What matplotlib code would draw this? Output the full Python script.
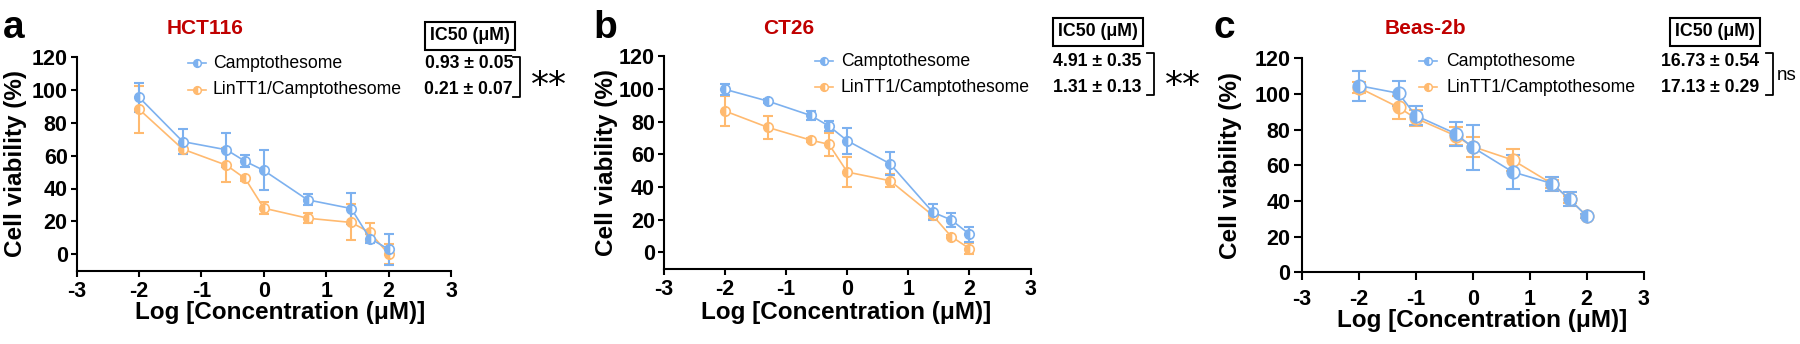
import matplotlib
matplotlib.use('Agg')
import matplotlib.pyplot as plt
from matplotlib.lines import Line2D

plt.rcParams['axes.unicode_minus'] = False

# dose points (log10 of µM)
x_ab = [-2, -1.3, -0.6, -0.3, 0, 0.7, 1.4, 1.7, 2]
x_c = [-2, -1.3, -1.0, -0.3, 0, 0.7, 1.4, 1.7, 2]

# HCT116
a_free = [95.6, 68.6, 63.6, 56.6, 51.0, 33.1, 27.8, 9.5, 3.0]
a_free_err = [9.0, 7.7, 10.5, 3.7, 12.2, 3.4, 9.4, 2.5, 9.4]
a_lin = [88.3, 64.0, 54.2, 46.1, 28.0, 21.9, 19.3, 13.2, 0.0]
a_lin_err = [14.4, 3.0, 10.5, 1.5, 3.5, 3.0, 11.0, 5.7, 6.0]

# CT26
b_free = [99.8, 92.6, 83.8, 77.3, 68.3, 54.2, 24.5, 19.8, 11.0]
b_free_err = [3.5, 1.0, 3.0, 3.0, 8.0, 7.0, 5.0, 4.5, 4.5]
b_lin = [86.5, 76.5, 68.7, 66.1, 49.1, 43.8, 22.5, 9.6, 2.2]
b_lin_err = [9.0, 7.0, 1.0, 7.0, 9.0, 4.0, 2.0, 1.0, 3.5]

# Beas-2b
c_free = [104.7, 100.4, 87.9, 77.8, 70.1, 56.3, 49.7, 40.9, 31.6]
c_free_err = [8.4, 7.0, 5.5, 6.7, 12.7, 9.5, 4.0, 4.0, 1.0]
c_lin = [103.6, 92.5, 86.4, 76.6, 70.5, 63.0, 49.5, 40.9, 31.6]
c_lin_err = [3.0, 6.5, 4.5, 5.0, 5.6, 6.2, 2.5, 2.0, 1.0]

titles = ['HCT116', 'CT26', 'Beas-2b']
letters = ['a', 'b', 'c']
ic50_free = ['0.93 ± 0.05', '4.91 ± 0.35', '16.73 ± 0.54']
ic50_lin = ['0.21 ± 0.07', '1.31 ± 0.13', '17.13 ± 0.29']
signif = ['**', '**', 'ns']
series_names = ['Camptothesome', 'LinTT1/Camptothesome']

blue = '#7db1ef'
orange = '#ffba70'
red = '#c00000'
font = ['Liberation Sans', 'DejaVu Sans']

W, H = 1800, 344
fig = plt.figure(figsize=(W / 100, H / 100), dpi=100)


def fx(px):
    return px / W


def fy(py):
    return 1 - py / H


# axes boxes in pixels: left(x=-3), right(x=3), top(y=120), bottom spine
boxes = [(76.7, 451.0, 57.3, 270.5), (664.0, 1030.6, 56.4, 268.5), (1301.6, 1643.7, 58.3, 272.3)]
ylims = [(-10, 120), (-10, 120), (0, 120)]
xs = [x_ab, x_ab, x_c]
data = [(a_free, a_free_err, a_lin, a_lin_err),
        (b_free, b_free_err, b_lin, b_lin_err),
        (c_free, c_free_err, c_lin, c_lin_err)]
msizes = [6.8, 6.8, 9.0]
caps = [3.6, 3.6, 4.8]
tick_len = [4.5, 4.5, 6]
tick_pad = [3, 3, 6]

# annotation positions (px)
ylab_x = [16, 606, 1231]
xlab_cx = [280, 846, 1482]
xlab_cy = [313, 312, 321]
title_x = [205, 789, 1425]
letter_x = [14, 605, 1224]
marker_x = [197, 824, 1428]
text_x = [213, 841, 1446]
row_y = [(63, 90), (61, 87), (61, 87)]
box_c = [(470, 36), (1098, 32), (1715, 32)]
val_right = [513, 1141, 1759]
brk_x = [520, 1154, 1773]
brk_y = [(57, 97), (53, 95), (53, 95)]

for i in range(3):
    l, r, t, b = boxes[i]
    ax = fig.add_axes([fx(l), fy(b), fx(r - l), (b - t) / H])
    x = xs[i]
    free, free_err, lin, lin_err = data[i]
    for y, e, col in [(lin, lin_err, orange), (free, free_err, blue)]:
        ax.errorbar(x, y, yerr=e, fmt='none', ecolor=col, elinewidth=1.5, capsize=caps[i],
                    capthick=1.5, zorder=2)
        ax.plot(x, y, color=col, lw=1.2, marker='o', ms=msizes[i], fillstyle='left',
                markerfacecolor=col, markerfacecoloralt='white', markeredgecolor=col,
                markeredgewidth=1.2, zorder=3)
    ax.set_xlim(-3, 3)
    ax.set_ylim(*ylims[i])
    ax.set_xticks([-3, -2, -1, 0, 1, 2, 3])
    ax.set_yticks([0, 20, 40, 60, 80, 100, 120])
    for s in ['top', 'right']:
        ax.spines[s].set_visible(False)
    for s in ['left', 'bottom']:
        ax.spines[s].set_linewidth(1.5)
    ax.tick_params(width=1.5, length=tick_len[i], direction='out', pad=2)
    ax.tick_params(axis='x', pad=tick_pad[i])
    for lab in ax.get_xticklabels() + ax.get_yticklabels():
        lab.set_fontfamily(font)
        lab.set_fontweight('bold')
        lab.set_fontsize(15.5)
    ax.set_xlabel('Log [Concentration (μM)]', family=font, fontweight='bold', fontsize=17.5,
                  va='center')
    ax.xaxis.set_label_coords((xlab_cx[i] - l) / (r - l), (b - xlab_cy[i]) / (b - t))
    ax.set_ylabel('Cell viability (%)', family=font, fontweight='bold', fontsize=17.5, va='center')
    ax.yaxis.set_label_coords((ylab_x[i] - l) / (r - l), 0.5)
    ax.patch.set_alpha(0)

    # legend drawn by hand
    for k, (col, name) in enumerate([(blue, series_names[0]), (orange, series_names[1])]):
        yy = fy(row_y[i][k])
        fig.add_artist(Line2D([fx(marker_x[i] - 9), fx(marker_x[i] + 9)], [yy, yy],
                              transform=fig.transFigure, color=col, lw=1.2))
        fig.add_artist(Line2D([fx(marker_x[i])], [yy], transform=fig.transFigure, ls='none',
                              marker='o', ms=5.5, fillstyle='left', markerfacecolor=col,
                              markerfacecoloralt='white', markeredgecolor=col, markeredgewidth=1.1))
        fig.text(fx(text_x[i]), yy, name, family=font, fontsize=12.7, ha='left', va='center')

    fig.text(fx(title_x[i]), fy(28), titles[i], color=red, family=font, fontweight='bold',
             fontsize=15, ha='center', va='center')
    fig.text(fx(letter_x[i]), fy(28), letters[i], family=font, fontweight='bold',
             fontsize=28, ha='center', va='center')
    fig.text(fx(box_c[i][0]), fy(box_c[i][1]), 'IC50 (μM)', family=font, fontweight='bold',
             fontsize=12.8, ha='center', va='center',
             bbox=dict(boxstyle='square,pad=0.3', fc='white', ec='black', lw=1.5))
    for txt, yy in zip([ic50_free[i], ic50_lin[i]], row_y[i]):
        fig.text(fx(val_right[i]), fy(yy), txt, family=font, fontweight='bold', fontsize=12.7,
                 ha='right', va='center')
    y0, y1 = brk_y[i]
    bx = brk_x[i]
    fig.add_artist(Line2D([fx(bx - 7), fx(bx), fx(bx), fx(bx - 7)],
                          [fy(y0), fy(y0), fy(y1), fy(y1)],
                          transform=fig.transFigure, color='black', lw=1.3))
    if signif[i] == 'ns':
        fig.text(fx(bx + 4), fy(76), 'ns', family=font, fontsize=13.5, ha='left', va='center')
    else:
        fig.text(fx(bx + 11), fy(86), '**', family=['DejaVu Sans'], fontsize=26, ha='left',
                 va='center')

fig.savefig('out.png', dpi=100)
